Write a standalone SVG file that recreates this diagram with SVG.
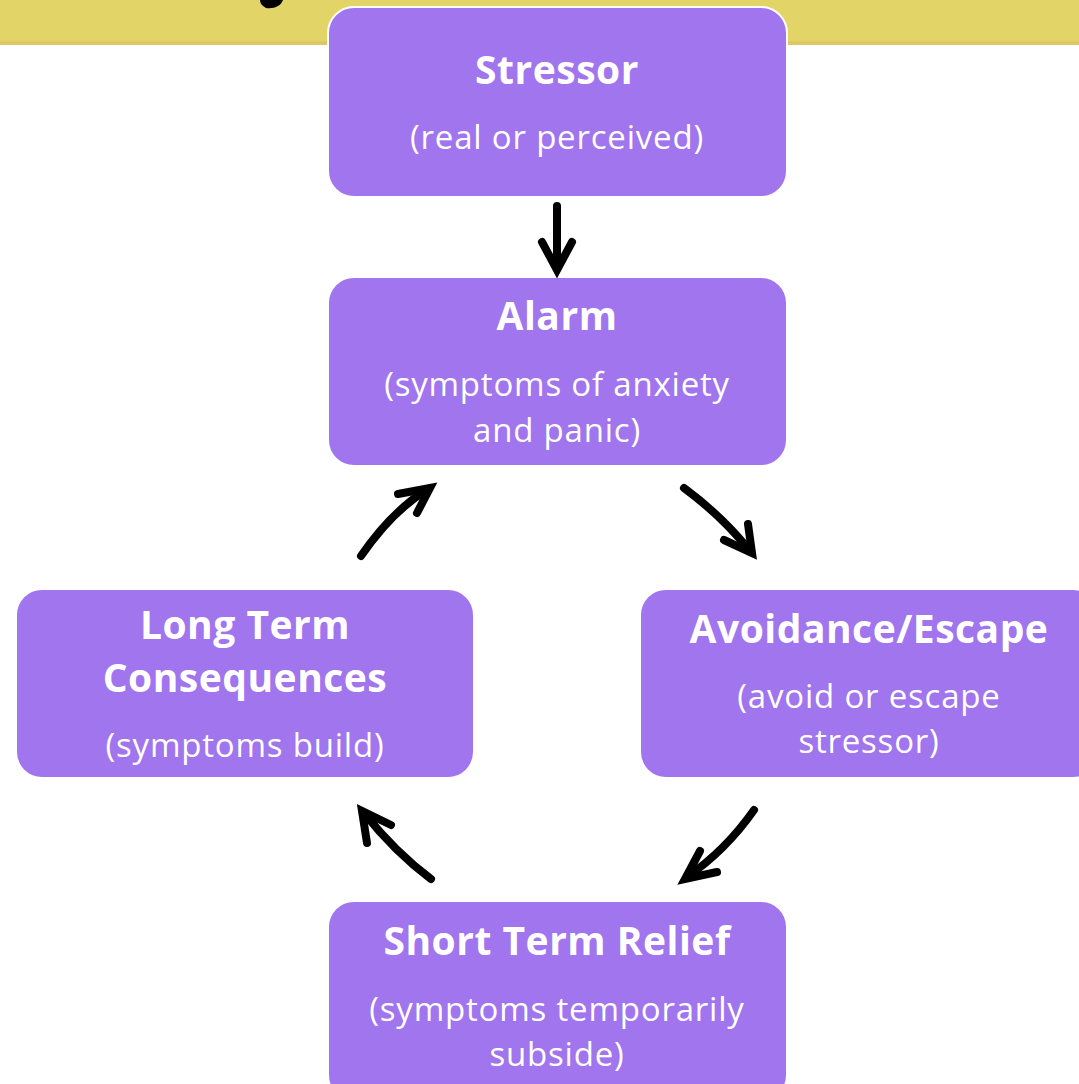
<svg xmlns="http://www.w3.org/2000/svg" width="1079" height="1084" viewBox="0 0 1079 1084">
<style>
.node{fill:#a075ed;stroke:#ffffff;stroke-width:2}
.t{font-family:"Open Sans","Liberation Sans",sans-serif;fill:#ffffff;text-anchor:middle}
.b{font-weight:bold;font-size:39px;letter-spacing:0.5px}
.s{font-size:33px;letter-spacing:0.8px}
.c{fill:none;stroke:#000;stroke-width:8;stroke-linecap:round}
.h{fill:none;stroke:#000;stroke-width:8;stroke-linecap:round;stroke-linejoin:miter}
</style>
<rect width="1079" height="1084" fill="#ffffff"/>
<rect x="0" y="0" width="1079" height="45" fill="#e2d466"/>
<rect x="0" y="41" width="1079" height="4" fill="#e0c766"/>
<path d="M260,0 L283,0 C281,6 274,9 266,8 C262,6 260,3 260,0 Z" fill="#000"/>
<g id="stressor">
<rect class="node" x="328" y="7" width="459" height="190" rx="26"/>
<text class="t b" x="557" y="84">Stressor</text>
<text class="t s" x="557" y="149">(real or perceived)</text>
</g>
<g id="alarm">
<rect class="node" x="328" y="277" width="459" height="189" rx="26"/>
<text class="t b" x="557" y="330">Alarm</text>
<text class="t s" x="557" y="396">(symptoms of anxiety</text>
<text class="t s" x="557" y="442">and panic)</text>
</g>
<g id="longterm">
<rect class="node" x="16" y="589" width="458" height="189" rx="26"/>
<text class="t b" x="245" y="639">Long Term</text>
<text class="t b" x="245" y="692">Consequences</text>
<text class="t s" x="245" y="757">(symptoms build)</text>
</g>
<g id="avoidance">
<rect class="node" x="640" y="589" width="459" height="189" rx="26"/>
<text class="t b" x="869" y="643">Avoidance/Escape</text>
<text class="t s" x="869" y="708">(avoid or escape</text>
<text class="t s" x="869" y="753">stressor)</text>
</g>
<g id="relief">
<rect class="node" x="328" y="901" width="459" height="200" rx="26"/>
<text class="t b" x="557" y="955">Short Term Relief</text>
<text class="t s" x="557" y="1021">(symptoms temporarily</text>
<text class="t s" x="557" y="1066">subside)</text>
</g>
<g id="connectors">
<path class="c" d="M557,206 L557,268"/>
<polyline class="h" points="542,242 557,270 572,242"/>
<path class="c" d="M361,556 Q392,511 428,489"/>
<polyline class="h" points="398,494 430,488 417,513"/>
<path class="c" d="M684,488 Q722,516 750,551"/>
<polyline class="h" points="724,540 752,553 748,524"/>
<path class="c" d="M754,810 Q726,850 687,877"/>
<polyline class="h" points="700,851 685,879 717,872"/>
<path class="c" d="M431,879 Q395,852 364,813"/>
<polyline class="h" points="367,843 362,811 391,825"/>
</g>
</svg>
